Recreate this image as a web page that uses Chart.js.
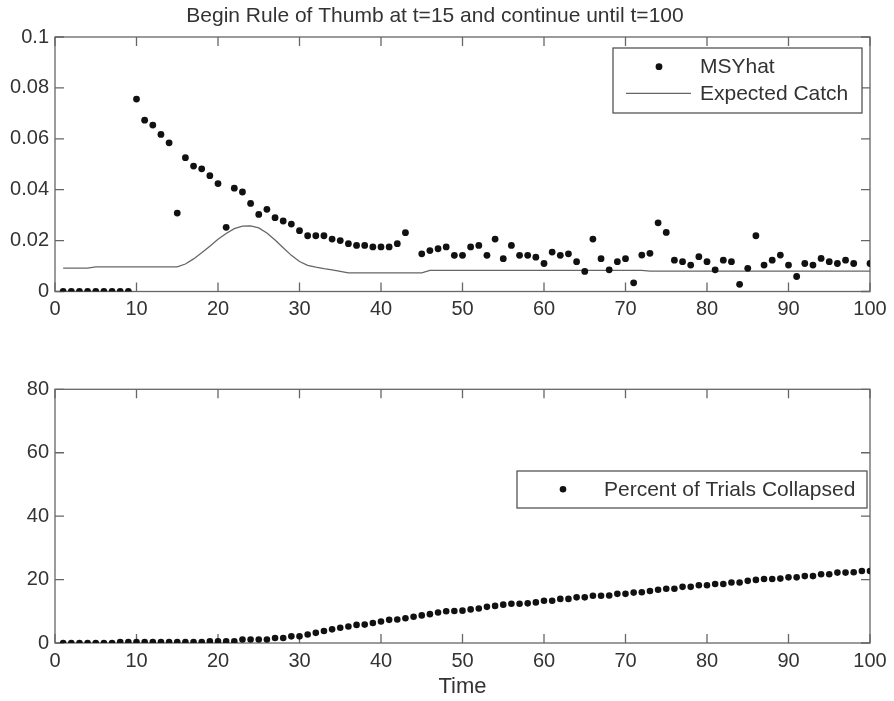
<!DOCTYPE html>
<html>
<head>
<meta charset="utf-8">
<script src="https://cdn.jsdelivr.net/npm/chart.js@4.4.0/dist/chart.umd.min.js"></script>
<style>
  html, body { margin: 0; padding: 0; background: #fff; }
  #wrap { position: relative; width: 894px; height: 701px; }
  canvas { position: absolute; left: 0; }
  #top { top: 0; }
  #bottom { top: 345px; }
</style>
</head>
<body>
<div id="wrap">
  <canvas id="top" width="894" height="345" style="width:894px;height:345px"></canvas>
  <canvas id="bottom" width="894" height="356" style="width:894px;height:356px"></canvas>
</div>
<script>
const title = 'Begin Rule of Thumb at t=15 and continue until t=100';

// time steps 1..100
const time = Array.from({ length: 100 }, (_, i) => i + 1);

const msyHat = [
  0, 0, 0, 0, 0, 0, 0, 0, 0, 0.0756,
  0.0673, 0.0654, 0.0617, 0.0584, 0.0308, 0.0526, 0.0493, 0.0482, 0.0455, 0.0424,
  0.0252, 0.0406, 0.0391, 0.0346, 0.0303, 0.0323, 0.0290, 0.0277, 0.0265, 0.0239,
  0.0219, 0.0219, 0.0219, 0.0206, 0.0200, 0.0188, 0.0181, 0.0181, 0.0175, 0.0175,
  0.0175, 0.0188, 0.0231, null, 0.0148, 0.0161, 0.0168, 0.0175, 0.0142, 0.0142,
  0.0175, 0.0181, 0.0142, 0.0206, 0.0129, 0.0181, 0.0142, 0.0142, 0.0135, 0.0110,
  0.0155, 0.0142, 0.0148, 0.0117, 0.0079, 0.0206, 0.0129, 0.0085, 0.0117, 0.0129,
  0.0034, 0.0143, 0.0150, 0.0270, 0.0232, 0.0123, 0.0117, 0.0104, 0.0137, 0.0117,
  0.0085, 0.0123, 0.0117, 0.0028, 0.0091, 0.0219, 0.0104, 0.0123, 0.0143, 0.0104,
  0.0059, 0.0110, 0.0104, 0.0130, 0.0117, 0.0110, 0.0123, 0.0110, null, 0.0110
];

const expectedCatch = [
  0.0092, 0.0092, 0.0092, 0.0092, 0.0097, 0.0097, 0.0097, 0.0097, 0.0097, 0.0097,
  0.0097, 0.0097, 0.0097, 0.0097, 0.0097, 0.0108, 0.0128, 0.0152, 0.0178, 0.0205,
  0.0228, 0.0247, 0.0257, 0.0258, 0.0250, 0.0230, 0.0202, 0.0172, 0.0142, 0.0118,
  0.0103, 0.0096, 0.0090, 0.0085, 0.0079, 0.0073, 0.0073, 0.0073, 0.0073, 0.0073,
  0.0073, 0.0073, 0.0073, 0.0073, 0.0073, 0.0083, 0.0083, 0.0083, 0.0083, 0.0083,
  0.0083, 0.0083, 0.0083, 0.0083, 0.0083, 0.0083, 0.0083, 0.0083, 0.0083, 0.0083,
  0.0083, 0.0083, 0.0083, 0.0083, 0.0083, 0.0083, 0.0083, 0.0083, 0.0083, 0.0083,
  0.0083, 0.0083, 0.0080, 0.0080, 0.0080, 0.0080, 0.0080, 0.0080, 0.0080, 0.0080,
  0.0080, 0.0080, 0.0080, 0.0080, 0.0080, 0.0080, 0.0080, 0.0080, 0.0080, 0.0080,
  0.0080, 0.0080, 0.0080, 0.0080, 0.0080, 0.0080, 0.0080, 0.0080, 0.0080, 0.0080
];

const percentCollapsed = [
  0, 0, 0, 0, 0, 0, 0, 0.3, 0.3, 0.3,
  0.3, 0.3, 0.3, 0.3, 0.3, 0.3, 0.3, 0.3, 0.5, 0.5,
  0.5, 0.5, 1.1, 1.1, 1.1, 1.1, 1.6, 1.6, 2.1, 2.1,
  2.7, 3.2, 3.8, 4.3, 4.8, 5.2, 5.7, 5.8, 6.3, 6.8,
  7.3, 7.4, 7.8, 8.3, 8.7, 9.1, 9.6, 10.0, 10.1, 10.2,
  10.6, 10.9, 11.4, 11.7, 12.1, 12.4, 12.4, 12.5, 12.8, 13.3,
  13.3, 13.9, 13.9, 14.4, 14.4, 14.9, 14.9, 15.0, 15.5, 15.5,
  15.9, 16.0, 16.4, 16.8, 17.1, 17.1, 17.7, 17.7, 18.2, 18.2,
  18.6, 18.6, 19.1, 19.1, 19.6, 19.9, 20.2, 20.2, 20.3, 20.7,
  20.7, 21.1, 21.1, 21.7, 21.7, 22.2, 22.2, 22.3, 22.7, 22.7
];

const points = vals => time.map((t, i) => ({ x: t, y: vals[i] }));

Chart.defaults.font.family = '"Liberation Sans", Arial, Helvetica, sans-serif';
Chart.defaults.color = '#333';
Chart.defaults.animation = false;

const AXIS = '#666';

// matlab-style box with inward ticks, plus a boxed legend
const frame = {
  id: 'frame',
  beforeDatasetsDraw(chart) {
    const { ctx, chartArea: a, scales: { x, y } } = chart;
    ctx.save();
    ctx.strokeStyle = AXIS;
    ctx.lineWidth = 1.3;
    ctx.strokeRect(a.left, a.top, a.right - a.left, a.bottom - a.top);
    ctx.beginPath();
    x.ticks.forEach(t => {
      const px = x.getPixelForValue(t.value);
      ctx.moveTo(px, a.bottom); ctx.lineTo(px, a.bottom - 9);
      ctx.moveTo(px, a.top); ctx.lineTo(px, a.top + 9);
    });
    y.ticks.forEach(t => {
      const py = y.getPixelForValue(t.value);
      ctx.moveTo(a.left, py); ctx.lineTo(a.left + 9, py);
      ctx.moveTo(a.right, py); ctx.lineTo(a.right - 9, py);
    });
    ctx.stroke();
    ctx.restore();
  },
  afterDraw(chart, args, opts) {
    const L = opts.legend;
    if (!L) return;
    const { ctx } = chart;
    ctx.save();
    ctx.fillStyle = '#fff';
    ctx.fillRect(L.x, L.y, L.w, L.h);
    ctx.strokeStyle = '#555';
    ctx.lineWidth = 1.3;
    ctx.strokeRect(L.x, L.y, L.w, L.h);
    ctx.font = '21px "Liberation Sans", Arial, sans-serif';
    ctx.textBaseline = 'middle';
    L.rows.forEach((idx, i) => {
      const ds = chart.data.datasets[idx];
      const cy = L.y + L.first + i * L.gap;
      const sx = L.x + 13;
      if (ds.showLine === false) {
        ctx.fillStyle = ds.pointBackgroundColor;
        ctx.beginPath();
        ctx.arc(sx + 33, cy, ds.pointRadius, 0, Math.PI * 2);
        ctx.fill();
      } else {
        ctx.strokeStyle = ds.borderColor;
        ctx.lineWidth = ds.borderWidth;
        ctx.beginPath();
        ctx.moveTo(sx, cy); ctx.lineTo(sx + 65, cy);
        ctx.stroke();
      }
      ctx.fillStyle = '#333';
      ctx.fillText(ds.label, L.x + 87, cy + 1);
    });
    ctx.restore();
  }
};

const tickFont = { size: 20 };
// matlab prints 0.1 rather than 0.10
const shortNum = v => String(Math.round(v * 1e4) / 1e4);

new Chart(document.getElementById('top'), {
  type: 'scatter',
  data: {
    datasets: [{
      label: 'MSYhat',
      data: points(msyHat),
      showLine: false,
      pointRadius: 3.4,
      pointBackgroundColor: '#111',
      pointBorderWidth: 0
    }, {
      label: 'Expected Catch',
      data: points(expectedCatch),
      showLine: true,
      borderColor: '#666',
      borderWidth: 1.3,
      pointRadius: 0,
      tension: 0
    }]
  },
  options: {
    responsive: false,
    layout: { padding: { left: 0, right: 24, top: 0, bottom: 0 } },
    plugins: {
      legend: { display: false },
      tooltip: { enabled: false },
      title: {
        display: true,
        text: title,
        color: '#333',
        font: { size: 21, weight: 'normal' },
        padding: { top: 4, bottom: 7.8 }
      },
      frame: { legend: { x: 613, y: 48, w: 249, h: 65, first: 18.7, gap: 26.6, rows: [0, 1] } }
    },
    scales: {
      x: {
        type: 'linear', min: 0, max: 100,
        ticks: { stepSize: 10, padding: 6, font: tickFont, maxRotation: 0 },
        grid: { display: false, drawTicks: false },
        border: { display: false },
        afterFit: s => { s.height = 53.5; }
      },
      y: {
        min: 0, max: 0.1,
        ticks: { stepSize: 0.02, padding: 6, font: tickFont, callback: shortNum },
        grid: { display: false, drawTicks: false },
        border: { display: false },
        afterFit: s => { s.width = 55; }
      }
    }
  },
  plugins: [frame]
});

new Chart(document.getElementById('bottom'), {
  type: 'scatter',
  data: {
    datasets: [{
      label: 'Percent of Trials Collapsed',
      data: points(percentCollapsed),
      showLine: false,
      pointRadius: 3.3,
      pointBackgroundColor: '#111',
      pointBorderWidth: 0
    }]
  },
  options: {
    responsive: false,
    layout: { padding: { left: 0, right: 24, top: 44.3, bottom: 0 } },
    plugins: {
      legend: { display: false },
      tooltip: { enabled: false },
      frame: { legend: { x: 517, y: 126, w: 350, h: 37, first: 18.3, gap: 0, rows: [0] } }
    },
    scales: {
      x: {
        type: 'linear', min: 0, max: 100,
        ticks: { stepSize: 10, padding: 6, font: tickFont, maxRotation: 0 },
        grid: { display: false, drawTicks: false },
        border: { display: false },
        title: { display: true, text: 'Time', color: '#333', font: { size: 22 }, padding: { top: 0, bottom: 1 } },
        afterFit: s => { s.height = 58; }
      },
      y: {
        min: 0, max: 80,
        ticks: { stepSize: 20, padding: 6, font: tickFont },
        grid: { display: false, drawTicks: false },
        border: { display: false },
        afterFit: s => { s.width = 55; }
      }
    }
  },
  plugins: [frame]
});
</script>
</body>
</html>
